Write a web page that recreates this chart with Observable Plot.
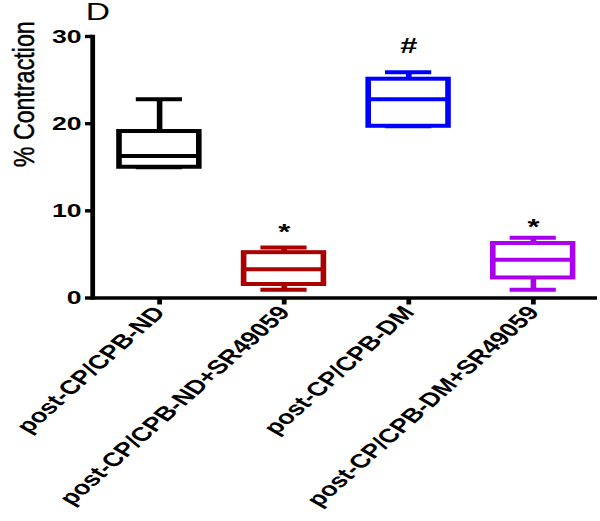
<!DOCTYPE html>
<html>
<head>
<meta charset="utf-8">
<script src="https://cdn.jsdelivr.net/npm/d3@7"></script>
<script src="https://cdn.jsdelivr.net/npm/@observablehq/plot@0.6"></script>
<style>
  html, body { margin: 0; padding: 0; background: #fff; }
  #chart { width: 600px; height: 521px; overflow: hidden; }
</style>
</head>
<body>
<div id="chart"></div>
<script>
// ---- data ----
const groups = ["post-CP/CPB-ND", "post-CP/CPB-ND+SR49059", "post-CP/CPB-DM", "post-CP/CPB-DM+SR49059"];
const mins    = [15.0, 0.95, 19.7, 0.95];
const q1s     = [15.0, 1.55, 19.7, 2.3];
const medians = [16.3, 3.3, 22.8, 4.4];
const q3s     = [19.1, 5.2, 25.1, 6.25];
const maxs    = [22.8, 5.8, 25.9, 6.9];
const colors  = ["#000000", "#aa0000", "#0000ff", "#aa00ee"];
const markGroups = ["post-CP/CPB-ND+SR49059", "post-CP/CPB-DM", "post-CP/CPB-DM+SR49059"];
const markSymbols = ["*", "#", "*"];
const markValues = [7.6, 28.9, 8.1];
const yTicks = [0, 10, 20, 30];
const panelLetter = "D";
const yLabel = "% Contraction";

const boxes = groups.map((g, i) => ({group: g, min: mins[i], q1: q1s[i], median: medians[i], q3: q3s[i], max: maxs[i], color: colors[i]}));
const marks = markGroups.map((g, i) => ({group: g, symbol: markSymbols[i], value: markValues[i]}));

// the reference is stretched horizontally; draw narrow, then stretch
const S = 1.4;
const W = 600 / S;
const H = 521;
const font = "'Liberation Sans', Arial, Helvetica, sans-serif";

const chart = Plot.plot({
  width: W,
  height: H,
  marginLeft: 92 / S,
  marginRight: 3 / S,
  marginTop: 36,
  marginBottom: H - 297.5,
  style: {fontFamily: font, background: "#fff", overflow: "visible"},
  x: {type: "band", domain: groups, range: [51.1, 442.5], padding: 0.36, axis: null},
  y: {domain: [0, 30], range: [297.5, 36], axis: null},
  marks: [
    // axes lines
    Plot.frame({anchor: "left", stroke: "#000", strokeWidth: 3.4}),
    Plot.ruleY([0], {stroke: "#000", strokeWidth: 3.4}),
    Plot.axisY({ticks: yTicks, tickSize: 5, tickPadding: 3, strokeWidth: 3.4, fontSize: 19, fontWeight: "bold", label: null, tickFormat: d => String(d)}),
    Plot.axisX({tickSize: 7, tickPadding: 4, strokeWidth: 3.4, fontSize: 19.5, fontWeight: "bold", tickRotate: -51, label: null}),
    // whiskers
    Plot.ruleX(boxes, {x: "group", y1: "q3", y2: "max", stroke: "color", strokeWidth: 4}),
    Plot.ruleX(boxes, {x: "group", y1: "min", y2: "q1", stroke: "color", strokeWidth: 4}),
    Plot.tickY(boxes, {x: "group", y: "max", stroke: "color", strokeWidth: 4, insetLeft: 12, insetRight: 12}),
    Plot.tickY(boxes, {x: "group", y: "min", stroke: "color", strokeWidth: 4, insetLeft: 12, insetRight: 12}),
    // boxes
    Plot.barY(boxes, {x: "group", y1: "q1", y2: "q3", fill: "#fff", stroke: "color", strokeWidth: 4}),
    Plot.tickY(boxes, {x: "group", y: "median", stroke: "color", strokeWidth: 4}),
    // significance marks
    Plot.text(marks, {x: "group", y: "value", text: "symbol", fontSize: 22, fontWeight: "bold", fill: "#000"}),
    // panel letter and y label
    Plot.text([panelLetter], {frameAnchor: "top-left", text: d => d, dx: -5, dy: -24, textAnchor: "start", lineAnchor: "middle", fontSize: 24, fill: "#000"}),
    Plot.text([yLabel], {frameAnchor: "left", text: d => d, rotate: -90, dx: -48.5, fontSize: 21, fill: "#000"})
  ]
});

chart.setAttribute("width", 600);
chart.setAttribute("height", H);
chart.setAttribute("viewBox", `0 0 ${W} ${H}`);
chart.setAttribute("preserveAspectRatio", "none");
chart.style.width = "600px";
chart.style.height = H + "px";
chart.style.maxWidth = "none";

d3.select(chart).selectAll("text").filter(function() { return this.textContent === yLabel; })
  .attr("textLength", 146).attr("lengthAdjust", "spacingAndGlyphs")
  .attr("stroke", "#000").attr("stroke-width", 0.35);

document.getElementById("chart").appendChild(chart);
</script>
</body>
</html>
